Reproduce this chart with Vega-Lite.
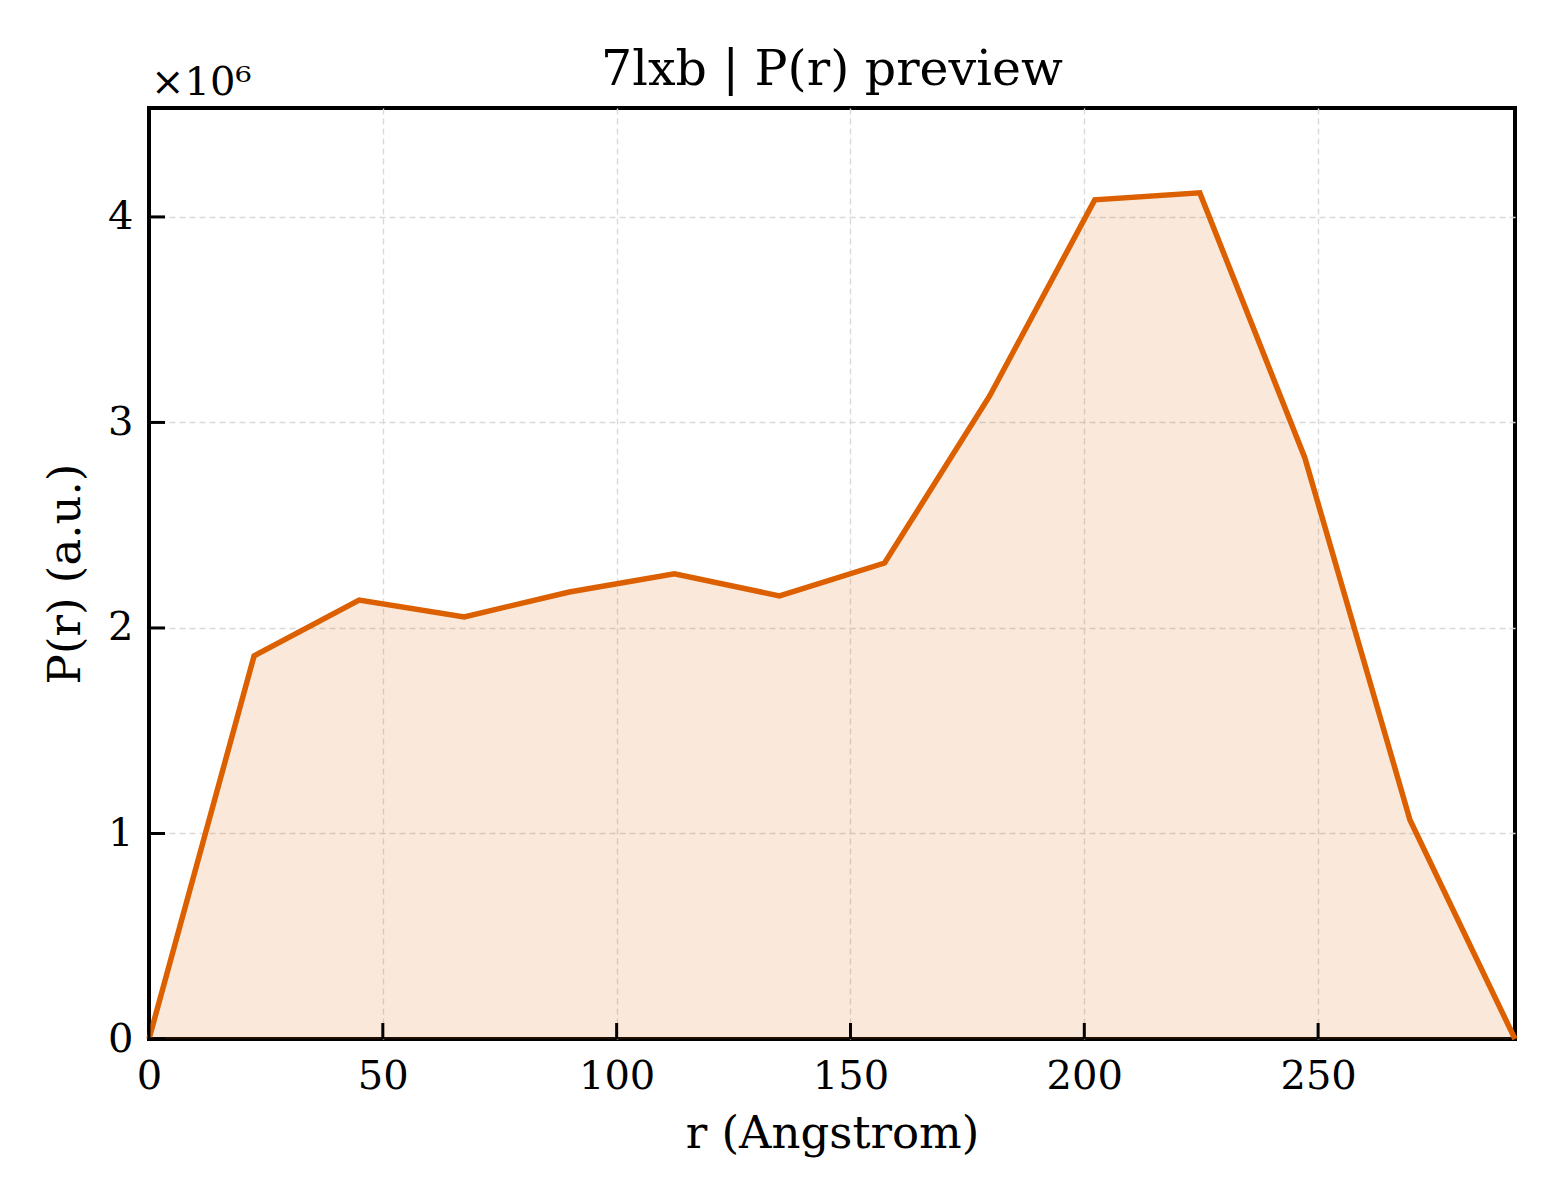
{
  "$schema": "https://vega.github.io/schema/vega-lite/v6.json",
  "autosize": {"type": "none"},
  "width": 1366,
  "height": 931,
  "padding": {"left": 149, "top": 108, "right": 45, "bottom": 161},
  "background": "white",
  "title": {"text": "7lxb | P(r) preview", "font": "DejaVu Serif", "fontSize": 49, "fontWeight": "normal", "color": "black", "offset": -32, "anchor": "middle"},
  "config": {
    "font": "DejaVu Serif",
    "view": {"stroke": "black", "strokeWidth": 4},
    "axis": {
      "domain": false,
      "grid": true,
      "gridColor": "#d9d9d9",
      "gridDash": [6, 4],
      "gridWidth": 1.4,
      "gridOpacity": {"condition": {"test": "datum.value == 0", "value": 0}, "value": 1},
      "ticks": false,
      "labelFont": "DejaVu Serif",
      "labelFontSize": 40,
      "labelColor": "black",
      "titleFont": "DejaVu Serif",
      "titleFontSize": 45,
      "titleFontWeight": "normal",
      "titleColor": "black"
    }
  },
  "datasets": {
    "pr": [
      {"r": 0.0, "p": 0},
      {"r": 22.47, "p": 1864000},
      {"r": 44.94, "p": 2136000},
      {"r": 67.41, "p": 2054000},
      {"r": 89.88, "p": 2175000},
      {"r": 112.35, "p": 2263000},
      {"r": 134.82, "p": 2156000},
      {"r": 157.29, "p": 2316000},
      {"r": 179.76, "p": 3129000},
      {"r": 202.23, "p": 4083000},
      {"r": 224.7, "p": 4117000},
      {"r": 247.17, "p": 2827000},
      {"r": 269.64, "p": 1066000},
      {"r": 292.1, "p": 0}
    ],
    "xticks": [{"r": 0}, {"r": 50}, {"r": 100}, {"r": 150}, {"r": 200}, {"r": 250}],
    "yticks": [{"p": 0}, {"p": 1000000}, {"p": 2000000}, {"p": 3000000}, {"p": 4000000}]
  },
  "layer": [
    {
      "data": {"name": "pr"},
      "mark": {"type": "area", "color": "#d95f02", "opacity": 0.14},
      "encoding": {
        "x": {
          "field": "r", "type": "quantitative",
          "scale": {"domain": [0, 292.1], "nice": false, "zero": false},
          "axis": {"title": "r (Angstrom)", "values": [0, 50, 100, 150, 200, 250], "labelPadding": 17, "titlePadding": 15, "labelFlush": false}
        },
        "y": {
          "field": "p", "type": "quantitative",
          "scale": {"domain": [0, 4530000], "nice": false},
          "axis": {"title": "P(r) (a.u.)", "values": [0, 1000000, 2000000, 3000000, 4000000], "labelExpr": "format(datum.value / 1000000, 'd')", "labelPadding": 16, "titlePadding": 19, "labelFlush": false}
        }
      }
    },
    {
      "data": {"name": "pr"},
      "mark": {"type": "line", "color": "#dc6000", "strokeWidth": 5.5, "strokeJoin": "miter"},
      "encoding": {
        "x": {"field": "r", "type": "quantitative"},
        "y": {"field": "p", "type": "quantitative"}
      }
    },
    {
      "data": {"name": "xticks"},
      "mark": {"type": "rule", "color": "black", "strokeWidth": 3},
      "encoding": {
        "x": {"field": "r", "type": "quantitative"},
        "y": {"datum": 0},
        "y2": {"datum": 78000}
      }
    },
    {
      "data": {"name": "yticks"},
      "mark": {"type": "rule", "color": "black", "strokeWidth": 3},
      "encoding": {
        "y": {"field": "p", "type": "quantitative"},
        "x": {"datum": 0},
        "x2": {"datum": 3.42}
      }
    },
    {
      "data": {"values": [{}]},
      "mark": {"type": "text", "text": "×10⁶", "align": "left", "baseline": "alphabetic", "fontSize": 40, "font": "DejaVu Serif", "color": "black", "dy": -13, "dx": 2},
      "encoding": {"x": {"datum": 0}, "y": {"datum": 4530000}}
    }
  ]
}
